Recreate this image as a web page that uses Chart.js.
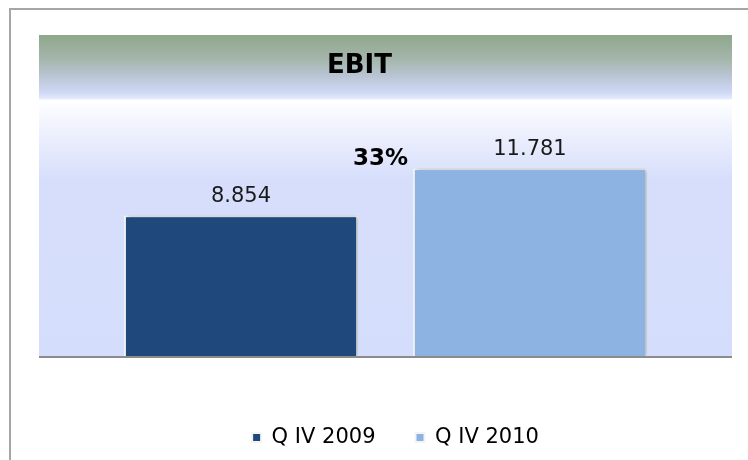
<!DOCTYPE html>
<html><head><meta charset="utf-8">
<script src="https://cdn.jsdelivr.net/npm/chart.js@4.4.1/dist/chart.umd.min.js"></script>
<style>html,body{margin:0;padding:0;background:#fff;overflow:hidden}canvas{display:block}</style>
</head><body>
<canvas id="c" width="748" height="460"></canvas>
<script>
// ---- data ----
const categories = ['EBIT'];
const seriesNames = ['Q IV 2009', 'Q IV 2010'];
const q4_2009 = [8.854];
const q4_2010 = [11.781];
const chartTitle = 'EBIT';
const yMin = 0;
const yMax = 20.1;

const colors = ['#1f497d', '#8db3e2'];
const FONT = "'DejaVu Sans', Verdana, sans-serif";

const growthPct = Math.round((q4_2010[0] / q4_2009[0] - 1) * 100) + '%';

const decoPlugin = {
  id: 'deco',
  afterLayout(chart) {
    const lg = chart.legend;
    if (!lg) return;
    const dx = 10, dy = 30;
    lg.left += dx; lg.right += dx; lg.top += dy; lg.bottom += dy;
  },
  beforeDraw(chart) {
    const {ctx, chartArea: a} = chart;
    ctx.save();
    ctx.fillStyle = '#ffffff';
    ctx.fillRect(0, 0, chart.width, chart.height);
    // outer frame
    ctx.strokeStyle = '#a6a6a6';
    ctx.lineWidth = 2;
    ctx.strokeRect(10, 9, 800, 520);
    // plot background gradient
    const g = ctx.createLinearGradient(0, a.top, 0, a.bottom);
    g.addColorStop(0, '#8fa78b');
    g.addColorStop(0.08, '#a6b7ae');
    g.addColorStop(0.125, '#b8c4d2');
    g.addColorStop(0.178, '#cfd8f5');
    g.addColorStop(0.196, '#e2e8fc');
    g.addColorStop(0.203, '#ffffff');
    g.addColorStop(0.225, '#fbfcff');
    g.addColorStop(0.31, '#eceffd');
    g.addColorStop(0.45, '#d6defb');
    g.addColorStop(1, '#d4ddfb');
    ctx.fillStyle = g;
    ctx.fillRect(a.left, a.top, a.right - a.left, a.bottom - a.top);
    ctx.restore();
  },
  beforeDatasetsDraw(chart) {
    const ctx = chart.ctx;
    ctx.save();
    ctx.shadowColor = 'rgba(40,50,90,0.35)';
    ctx.shadowBlur = 4;
    ctx.shadowOffsetX = 2;
    ctx.shadowOffsetY = 0;
  },
  afterDatasetsDraw(chart) {
    const {ctx, chartArea: a} = chart;
    ctx.restore();
    ctx.save();
    // baseline
    ctx.strokeStyle = '#8c8c8c';
    ctx.lineWidth = 2;
    ctx.beginPath();
    ctx.moveTo(a.left, a.bottom);
    ctx.lineTo(a.right, a.bottom);
    ctx.stroke();
    // value labels
    ctx.fillStyle = '#1a1a1a';
    ctx.font = '21px ' + FONT;
    ctx.textAlign = 'center';
    ctx.textBaseline = 'alphabetic';
    chart.data.datasets.forEach((ds, di) => {
      const meta = chart.getDatasetMeta(di);
      meta.data.forEach((bar, i) => {
        ctx.fillText(ds.data[i].toFixed(3), bar.x, bar.y - 13.5);
      });
    });
    // title inside plot
    ctx.fillStyle = '#000';
    ctx.font = 'bold 26px ' + FONT;
    ctx.fillText(chartTitle, (a.left + a.right) / 2 - 26, a.top + 38);
    // growth label
    const b1 = chart.getDatasetMeta(0).data[0];
    const b2 = chart.getDatasetMeta(1).data[0];
    ctx.font = 'bold 23px ' + FONT;
    ctx.fillText(growthPct, (b1.x + b2.x) / 2 - 5, b2.y - 3);
    ctx.restore();
  }
};

new Chart(document.getElementById('c'), {
  type: 'bar',
  data: {
    labels: categories,
    datasets: [
      { label: seriesNames[0], data: q4_2009, backgroundColor: colors[0], borderColor: '#f4f4f4', borderWidth: 2 },
      { label: seriesNames[1], data: q4_2010, backgroundColor: colors[1], borderColor: '#f4f4f4', borderWidth: 2 }
    ]
  },
  options: {
    responsive: false,
    devicePixelRatio: 1,
    animation: false,
    layout: { padding: { left: 39, right: 16, top: 35, bottom: 32 } },
    datasets: { bar: { categoryPercentage: 0.834, barPercentage: 0.81 } },
    scales: {
      x: { display: false },
      y: { display: false, min: yMin, max: yMax }
    },
    plugins: {
      title: { display: false },
      tooltip: { enabled: false },
      legend: {
        display: true,
        position: 'bottom',
        labels: {
          boxWidth: 9,
          boxHeight: 9,
          padding: 40,
          color: '#000',
          font: { family: FONT, size: 21 }
        }
      }
    }
  },
  plugins: [decoPlugin]
});
</script>
</body></html>
